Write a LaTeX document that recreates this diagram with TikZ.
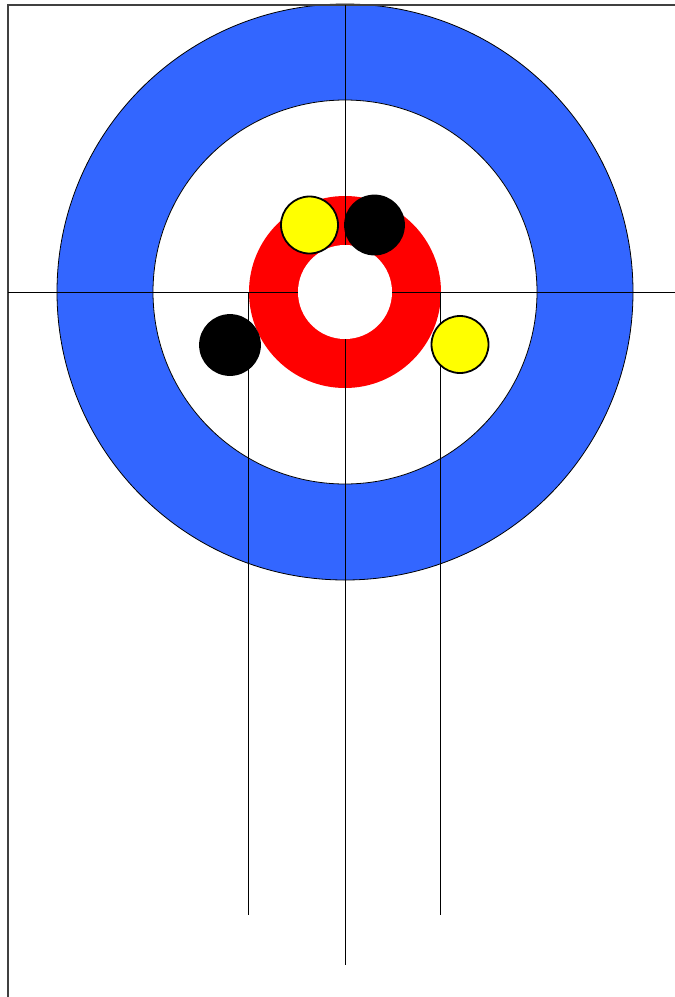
\documentclass[tikz,border=0pt]{standalone}
\usepackage{tikz}
\definecolor{houseBlue}{RGB}{51,102,255}
\definecolor{houseRed}{RGB}{255,0,0}
\definecolor{stoneYellow}{RGB}{255,255,0}
\begin{document}
\begin{tikzpicture}[x=1pt, y=-1pt,
    stone/.style={circle, draw=black, line width=1.8pt, inner sep=0pt, minimum size=57pt},
    sheetline/.style={black, line width=1pt}]
  \useasboundingbox (0,0) rectangle (675,997);
  \fill[white] (0,0) rectangle (675,997);
  % the house
  \draw[fill=houseBlue, line width=0.8pt] (345,292) circle (288);
  \draw[fill=white, line width=0.8pt] (345,292) circle (192);
  \fill[houseRed] (345,292) circle (96);
  % sheet border
  \draw[line width=1.6pt, black!75] (675,5) -- (8,5) -- (8,997);
  % tee line and centre lines
  \draw[sheetline] (8,292) -- (675,292);
  \draw[sheetline] (345,5) -- (345,965);
  \foreach \x in {248,440}{
    \draw[sheetline] (\x,292) -- (\x,915);}
  % the button covers the lines
  \fill[white] (345,292) circle (47);
  % the stones
  \node[stone, fill=stoneYellow] (y1) at (309.5,225) {};
  \node[stone, fill=black, minimum size=59pt] (b1) at (374.5,225) {};
  \node[stone, fill=black, minimum size=60pt] (b2) at (230,345) {};
  \node[stone, fill=stoneYellow] (y2) at (460,344.5) {};
\end{tikzpicture}
\end{document}
